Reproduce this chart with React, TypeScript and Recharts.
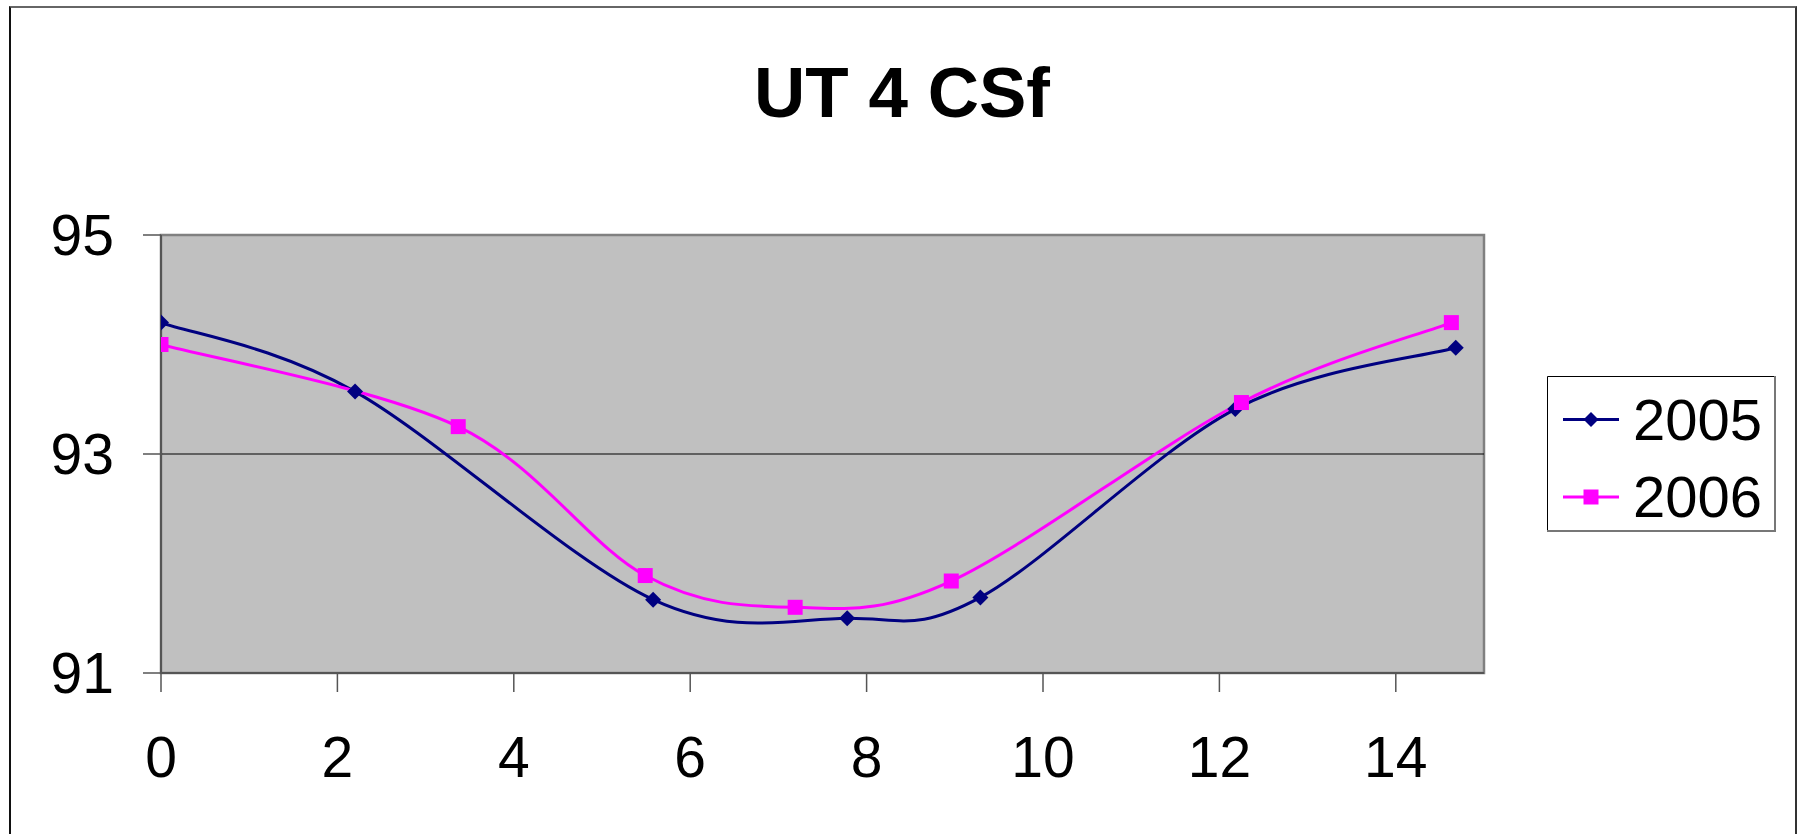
import { LineChart, Line, XAxis, YAxis, ReferenceArea, ReferenceLine } from "recharts";

const xTicks = [0, 2, 4, 6, 8, 10, 12, 14];
const yTicks = [91, 93, 95];

const x2005 = [0, 2.2, 5.58, 7.78, 9.29, 12.18, 14.68];
const y2005 = [94.2, 93.57, 91.67, 91.5, 91.69, 93.41, 93.97];
const x2006 = [0, 3.37, 5.49, 7.19, 8.96, 12.25, 14.63];
const y2006 = [94.0, 93.25, 91.89, 91.6, 91.84, 93.47, 94.2];

const data2005 = x2005.map((x, i) => ({ x, y: y2005[i] }));
const data2006 = x2006.map((x, i) => ({ x, y: y2006[i] }));

const NAVY = "#000080";
const MAGENTA = "#FF00FF";
const FONT = "'Liberation Sans', Arial, sans-serif";

// Excel-style smoothed line: Catmull-Rom bezier through every point
function excelSmooth(context: any) {
  let pts: number[][] = [];
  return {
    areaStart() {},
    areaEnd() {},
    lineStart() {
      pts = [];
    },
    point(x: number, y: number) {
      pts.push([+x, +y]);
    },
    lineEnd() {
      const n = pts.length;
      if (!n) return;
      context.moveTo(pts[0][0], pts[0][1]);
      for (let i = 0; i < n - 1; i++) {
        const p0 = pts[Math.max(i - 1, 0)];
        const p1 = pts[i];
        const p2 = pts[i + 1];
        const p3 = pts[Math.min(i + 2, n - 1)];
        context.bezierCurveTo(
          p1[0] + (p2[0] - p0[0]) / 6,
          p1[1] + (p2[1] - p0[1]) / 6,
          p2[0] - (p3[0] - p1[0]) / 6,
          p2[1] - (p3[1] - p1[1]) / 6,
          p2[0],
          p2[1]
        );
      }
    },
  };
}

const Diamond = (props: any) => {
  const { cx, cy, key } = props;
  if (cx == null || cy == null) return <g key={key} />;
  const r = 8;
  return <path key={key} d={`M${cx},${cy - r}L${cx + r},${cy}L${cx},${cy + r}L${cx - r},${cy}Z`} fill={NAVY} />;
};

const Square = (props: any) => {
  const { cx, cy, key } = props;
  if (cx == null || cy == null) return <g key={key} />;
  const r = 7.5;
  return <rect key={key} x={cx - r} y={cy - r} width={2 * r} height={2 * r} fill={MAGENTA} />;
};

function LegendBox() {
  return (
    <svg width={229} height={156} style={{ display: "block" }}>
      <rect x={0} y={0} width={229} height={156} fill="#fff" />
      <line x1={0.5} y1={0.5} x2={228} y2={0.5} stroke="#000" />
      <line x1={0.5} y1={0.5} x2={0.5} y2={155} stroke="#000" />
      <line x1={228} y1={0} x2={228} y2={156} stroke="#777" strokeWidth={2} />
      <line x1={0} y1={155} x2={229} y2={155} stroke="#777" strokeWidth={2} />
      <line x1={16} y1={43.5} x2={72} y2={43.5} stroke={NAVY} strokeWidth={3} />
      <path d="M44,36L51.5,43.5L44,51L36.5,43.5Z" fill={NAVY} />
      <text x={86} y={64} fontSize={58} fontFamily={FONT} fill="#000">2005</text>
      <line x1={16} y1={121} x2={72} y2={121} stroke={MAGENTA} strokeWidth={3} />
      <rect x={36.5} y={113.5} width={15} height={15} fill={MAGENTA} />
      <text x={86} y={141} fontSize={58} fontFamily={FONT} fill="#000">2006</text>
    </svg>
  );
}

export default function App() {
  return (
    <div style={{ position: "absolute", left: 0, top: 0, width: 1797, height: 834, overflow: "hidden", background: "#fff", fontFamily: FONT }}>
      <div
        style={{
          position: "absolute",
          left: 9,
          top: 6,
          width: 1784,
          height: 900,
          borderTop: "2px solid #666",
          borderLeft: "2px solid #111",
          borderRight: "2px solid #333",
        }}
      />
      <div
        style={{
          position: "absolute",
          left: 502,
          top: 57,
          width: 800,
          textAlign: "center",
          fontSize: 71,
          lineHeight: "71px",
          fontWeight: "bold",
          color: "#000",
        }}
      >
        UT 4 CSf
      </div>
      <LineChart width={1797} height={834} margin={{ top: 235, right: 313, bottom: 0, left: 0 }} style={{ position: "absolute", left: 0, top: 0 }}>
        <XAxis
          dataKey="x"
          type="number"
          domain={[0, 15]}
          ticks={xTicks}
          interval={0}
          height={161}
          tickSize={19}
          tickMargin={45}
          allowDataOverflow
          axisLine={{ stroke: "#555", strokeWidth: 2 }}
          tickLine={{ stroke: "#555", strokeWidth: 1.5 }}
          tick={{ fill: "#000", fontSize: 57, fontFamily: FONT }}
        />
        <YAxis
          type="number"
          domain={[91, 95]}
          ticks={yTicks}
          interval={0}
          width={161}
          tickSize={18}
          tickMargin={29}
          allowDataOverflow
          axisLine={{ stroke: "#555", strokeWidth: 2 }}
          tickLine={{ stroke: "#555", strokeWidth: 1.5 }}
          tick={{ fill: "#000", fontSize: 57, fontFamily: FONT }}
        />
        <ReferenceArea x1={0} x2={15} y1={91} y2={95} fill="#C0C0C0" fillOpacity={1} stroke="#808080" strokeWidth={2.5} />
        <ReferenceLine y={93} stroke="#000" strokeWidth={1.2} />
        <Line
          data={data2005}
          dataKey="y"
          name="2005"
          type={excelSmooth as any}
          stroke={NAVY}
          strokeWidth={3}
          dot={Diamond}
          activeDot={false}
          isAnimationActive={false}
        />
        <Line
          data={data2006}
          dataKey="y"
          name="2006"
          type={excelSmooth as any}
          stroke={MAGENTA}
          strokeWidth={3}
          dot={Square}
          activeDot={false}
          isAnimationActive={false}
        />
      </LineChart>
      <div style={{ position: "absolute", left: 1547, top: 376 }}>
        <LegendBox />
      </div>
    </div>
  );
}
